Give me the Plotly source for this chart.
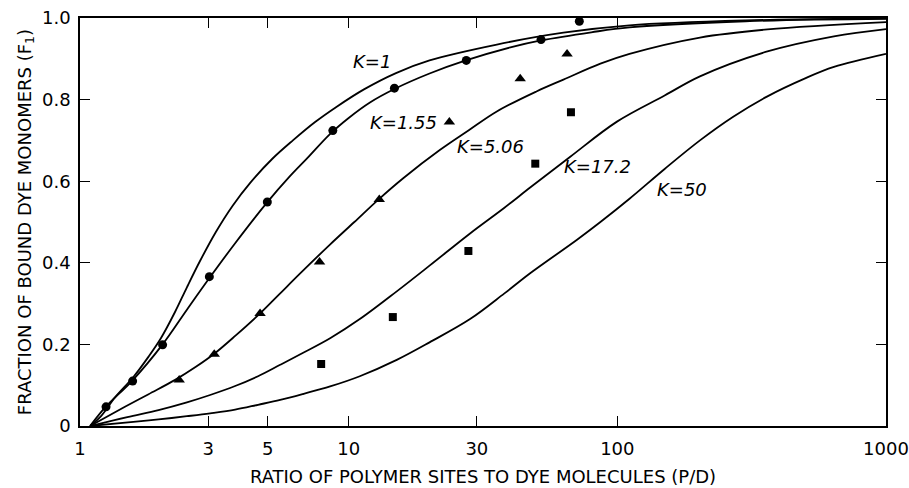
import math
import plotly.graph_objects as go

# ---- theoretical curves ----
k1_x = [1.09, 1.2, 1.35, 1.58, 1.8, 2.0, 2.26, 2.5, 2.8, 3.2, 3.7, 4.3, 5.2, 6.2, 7.5, 9, 11.4, 15, 20, 35.6, 63, 111, 300, 1000]
k1_y = [0.0, 0.025, 0.07, 0.12, 0.17, 0.215, 0.28, 0.34, 0.405, 0.475, 0.54, 0.596, 0.655, 0.7, 0.745, 0.782, 0.825, 0.865, 0.896, 0.935, 0.964, 0.982, 0.994, 0.999]

k155_x = [1.09, 1.25, 1.57, 2.03, 2.5, 3.05, 3.78, 5.0, 6.0, 7.0, 8.5, 10, 12, 14.8, 20, 27.3, 40, 52, 80, 111, 300, 1000]
k155_y = [0.0, 0.048, 0.112, 0.2, 0.285, 0.365, 0.448, 0.55, 0.61, 0.656, 0.715, 0.755, 0.793, 0.826, 0.864, 0.896, 0.928, 0.945, 0.965, 0.977, 0.992, 0.998]

k506_x = [1.09, 1.47, 1.8, 2.26, 2.7, 3.16, 3.8, 4.68, 5.5, 6.6, 8.5, 10.5, 12.9, 16, 21.9, 28, 35.6, 50, 63, 86.5, 111, 203, 362, 1000]
k506_y = [0.0, 0.047, 0.078, 0.113, 0.145, 0.177, 0.222, 0.276, 0.322, 0.374, 0.444, 0.5, 0.555, 0.608, 0.677, 0.725, 0.771, 0.82, 0.849, 0.888, 0.912, 0.952, 0.972, 0.99]

k172_x = [1.09, 1.5, 1.96, 2.5, 3.05, 3.78, 4.6, 5.56, 6.8, 8.53, 11, 15.1, 20, 28.3, 38, 47.5, 66.8, 99.7, 150, 203, 362, 640, 1000]
k172_y = [0.0, 0.022, 0.039, 0.058, 0.076, 0.098, 0.122, 0.15, 0.18, 0.215, 0.262, 0.33, 0.393, 0.472, 0.535, 0.585, 0.66, 0.746, 0.81, 0.857, 0.918, 0.955, 0.973]

k50_x = [1.09, 1.58, 1.96, 2.5, 3.05, 3.78, 4.6, 5.56, 6.8, 8.53, 11, 15.1, 20, 28.3, 38, 47.5, 70.6, 86.5, 111, 150, 203, 270, 362, 500, 640, 1000]
k50_y = [0.0, 0.01, 0.016, 0.024, 0.031, 0.04, 0.052, 0.064, 0.079, 0.097, 0.122, 0.162, 0.205, 0.262, 0.325, 0.375, 0.456, 0.5, 0.557, 0.63, 0.7, 0.758, 0.808, 0.852, 0.88, 0.912]

curve_labels = ["K=1", "K=1.55", "K=5.06", "K=17.2", "K=50"]
label_x = [12.2, 16.0, 33.6, 84.2, 174]
label_y = [0.894, 0.744, 0.685, 0.636, 0.579]

# ---- experimental points ----
circ_x = [1.25, 1.57, 2.03, 3.03, 4.98, 8.73, 14.8, 27.4, 52, 72.2]
circ_y = [0.047, 0.11, 0.199, 0.366, 0.549, 0.724, 0.828, 0.896, 0.947, 0.992]

tri_x = [2.34, 3.16, 4.68, 7.79, 13.0, 23.7, 43.5, 65]
tri_y = [0.113, 0.176, 0.276, 0.402, 0.555, 0.745, 0.851, 0.912]

sq_x = [7.9, 14.6, 27.9, 49.5, 67.2]
sq_y = [0.152, 0.267, 0.429, 0.643, 0.769]

x_tickvals = [1, 3, 5, 10, 30, 100, 1000]
x_ticktext = ["1", "3", "5", "10", "30", "100", "1000"]
y_tickvals = [0, 0.2, 0.4, 0.6, 0.8, 1.0]
y_ticktext = ["0", "0.2", "0.4", "0.6", "0.8", "1.0"]

FONT = "DejaVu Sans"
fig = go.Figure()

for xs, ys in [(k1_x, k1_y), (k155_x, k155_y), (k506_x, k506_y), (k172_x, k172_y), (k50_x, k50_y)]:
    fig.add_trace(go.Scatter(x=xs, y=ys, mode="lines",
                             line=dict(color="black", width=1.8, shape="spline", smoothing=1.0),
                             showlegend=False, hoverinfo="skip"))

fig.add_trace(go.Scatter(x=circ_x, y=circ_y, mode="markers",
                         marker=dict(symbol="circle", size=9, color="black"), showlegend=False))
fig.add_trace(go.Scatter(x=tri_x, y=tri_y, mode="markers",
                         marker=dict(symbol="triangle-up", size=10, color="black"), showlegend=False))
fig.add_trace(go.Scatter(x=sq_x, y=sq_y, mode="markers",
                         marker=dict(symbol="square", size=8, color="black"), showlegend=False))

for t, lx, ly in zip(curve_labels, label_x, label_y):
    fig.add_annotation(x=math.log10(lx), y=ly, xref="x", yref="y", text="<i>" + t + "</i>",
                       showarrow=False, xanchor="center", yanchor="middle",
                       font=dict(family=FONT, size=18, color="black"))

fig.update_xaxes(type="log", range=[0, 3], tickvals=x_tickvals, ticktext=x_ticktext,
                 ticks="inside", ticklen=10, tickwidth=1.3, tickcolor="black",
                 showline=True, linecolor="black", linewidth=1.6, mirror="ticks",
                 showgrid=False, zeroline=False, ticklabelstandoff=6, automargin=False,
                 tickfont=dict(family=FONT, size=18, color="black"),
                 title=dict(text="RATIO OF POLYMER SITES TO DYE MOLECULES (P/D)",
                            font=dict(family=FONT, size=18, color="black"), standoff=12))
fig.update_yaxes(range=[0, 1], tickvals=y_tickvals, ticktext=y_ticktext,
                 ticks="inside", ticklen=10, tickwidth=1.3, tickcolor="black",
                 showline=True, linecolor="black", linewidth=1.6, mirror="ticks",
                 showgrid=False, zeroline=False, ticklabelstandoff=4, automargin=False,
                 tickfont=dict(family=FONT, size=18, color="black"),
                 title=dict(text="FRACTION OF BOUND DYE MONOMERS (F<sub>1</sub>)",
                            font=dict(family=FONT, size=18, color="black"), standoff=6))

fig.update_layout(template="none", width=909, height=488, margin=dict(l=80, r=23, t=18, b=62),
                  plot_bgcolor="white", paper_bgcolor="white", showlegend=False)

fig.write_html("out.html", config={"displayModeBar": False},
               post_script="document.body.style.margin='0px';document.body.style.overflow='hidden';")
